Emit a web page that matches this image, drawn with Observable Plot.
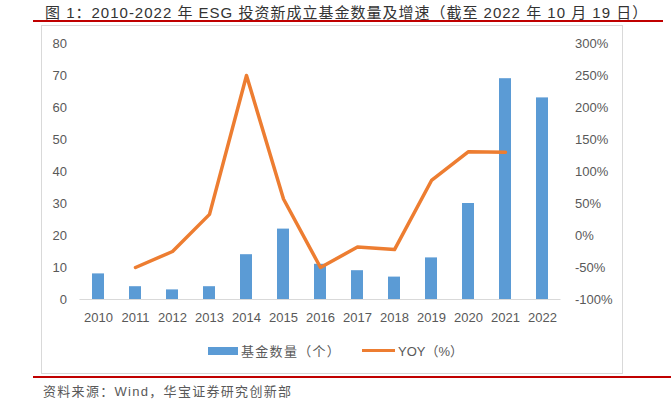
<!DOCTYPE html>
<html><head><meta charset="utf-8">
<script src="https://cdn.jsdelivr.net/npm/d3@7"></script>
<script src="https://cdn.jsdelivr.net/npm/@observablehq/plot@0.6"></script>
<style>
body{margin:0;background:#fff;font-family:"Liberation Sans","Noto Sans CJK SC",sans-serif;}
#wrap{position:relative;width:671px;height:403px;overflow:hidden;}
#title{position:absolute;left:45px;top:1px;font-size:15px;color:#333;white-space:nowrap;letter-spacing:1px;}
.red{position:absolute;height:2px;background:#c00000;}
#box{position:absolute;left:41px;top:25px;width:580px;height:347px;border:1px solid #d9d9d9;}
#chart{position:absolute;left:0;top:27px;}
#legend{position:absolute;top:341px;left:0;width:671px;font-size:13px;color:#595959;}
#legend span{position:absolute;white-space:nowrap;}
#source{position:absolute;left:43px;top:381px;font-size:13px;color:#595959;white-space:nowrap;letter-spacing:1.3px;}
</style></head>
<body><div id="wrap">
<div id="title">图 1：2010-2022 年 ESG 投资新成立基金数量及增速（截至 2022 年 10 月 19 日）</div>
<div class="red" style="left:33px;top:20px;width:630px;"></div>
<div id="box"></div>
<div id="chart"></div>
<div id="legend">
  <span style="left:208px;top:6px;width:30px;height:8px;background:#5b9bd5;"></span>
  <span style="left:241px;top:0px;letter-spacing:1.3px;">基金数量（个）</span>
  <span style="left:362px;top:8px;width:33px;height:3px;background:#ed7d31;"></span>
  <span style="left:398px;top:0px;">YOY（%）</span>
</div>
<div class="red" style="left:33px;top:376px;width:638px;"></div>
<div id="source">资料来源：Wind，华宝证券研究创新部</div>
</div>
<script>
const years = ["2010","2011","2012","2013","2014","2015","2016","2017","2018","2019","2020","2021","2022"];
const counts = [8,4,3,4,14,22,11,9,7,13,30,69,63];
const yoyYears = ["2011","2012","2013","2014","2015","2016","2017","2018","2019","2020","2021"];
const yoy = [-50,-25,33,250,57,-50,-18,-22,86,131,130];
const leftTicks = [0,10,20,30,40,50,60,70,80];
const rightTicks = [-100,-50,0,50,100,150,200,250,300];

// map YOY (%) onto the count axis: -100% -> 0, 300% -> 80
const toCount = p => (p + 100) * 0.2;
const fromCount = c => Math.round(c / 0.2 - 100);

const bars = years.map((y, i) => ({year: y, count: counts[i]}));
const line = yoyYears.map((y, i) => ({year: y, v: toCount(yoy[i])}));

const chart = Plot.plot({
  width: 671,
  height: 300,
  marginLeft: 79.5,
  marginRight: 110.5,
  marginTop: 16,
  marginBottom: 28,
  style: {fontFamily: "'Liberation Sans','Noto Sans CJK SC',sans-serif", fontSize: "13px", color: "#595959", background: "transparent"},
  x: {domain: years, paddingInner: 0.676, paddingOuter: 0.338, label: null},
  y: {domain: [0, 80], label: null},
  marks: [
    Plot.barY(bars, {x: "year", y: "count", fill: "#5b9bd5"}),
    Plot.ruleY([0], {stroke: "#d9d9d9", strokeWidth: 1}),
    Plot.line(line, {x: "year", y: "v", stroke: "#ed7d31", strokeWidth: 3.5, strokeLinejoin: "round", strokeLinecap: "round"}),
    Plot.axisX({tickSize: 0, tickPadding: 13, label: null, fill: "#595959"}),
    Plot.axisY({ticks: leftTicks, tickSize: 0, tickPadding: 13, label: null, fill: "#595959"}),
    Plot.axisY({anchor: "right", ticks: rightTicks.map(toCount), tickFormat: d => fromCount(d) + "%", tickSize: 0, tickPadding: 14, label: null, fill: "#595959"})
  ]
});
document.getElementById("chart").appendChild(chart);
</script>
</body></html>
